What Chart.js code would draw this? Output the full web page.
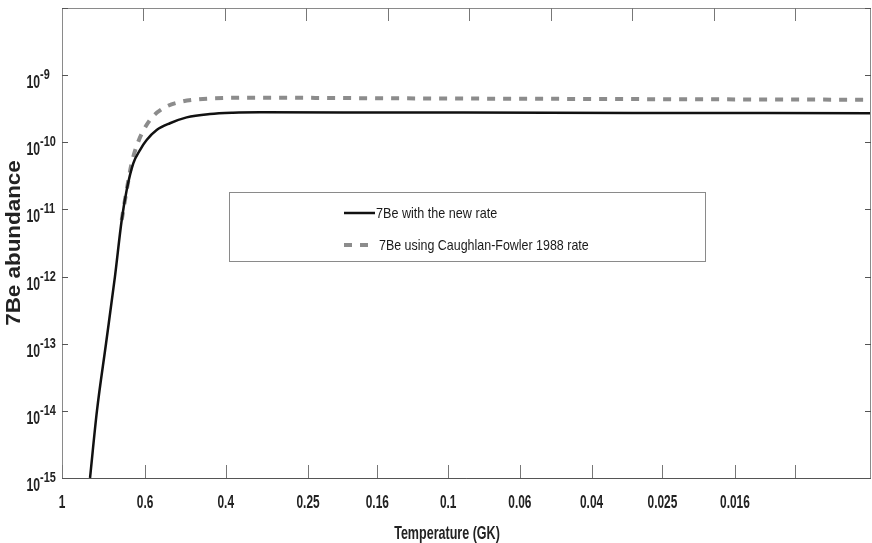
<!DOCTYPE html>
<html>
<head>
<meta charset="utf-8">
<script src="https://cdn.jsdelivr.net/npm/chart.js@4.4.1/dist/chart.umd.min.js"></script>
<style>
  html, body { margin: 0; padding: 0; background: #fff; }
  #wrap { width: 872px; height: 543px; }
</style>
</head>
<body>
<div id="wrap"><canvas id="c"></canvas></div>
<script>
// x runs in axis units (one top tick per unit), labels are temperatures in GK
const tempLabels = ['1', '0.6', '0.4', '0.25', '0.16', '0.1', '0.06', '0.04', '0.025', '0.016'];
const labelTicks = [0, 1.02, 2.01, 3.02, 3.87, 4.74, 5.62, 6.50, 7.37, 8.26];
const extraBottomTicks = [9.0];
const topTicks = [1, 2, 3, 4, 5, 6, 7, 8, 9];
const yDecades = [-15, -14, -13, -12, -11, -10, -9, -8];
const xTitle = 'Temperature (GK)';
const yTitle = '7Be abundance';

// 7Be with the new rate
const newRateX = [0.344, 0.429, 0.540, 0.650, 0.733, 0.794, 0.875, 0.957, 1.039, 1.162, 1.325, 1.530, 1.816, 2.098, 2.429, 4.0, 7.0, 9.93];
const newRateY = [1e-15, 1e-14, 1e-13, 1e-12, 6.97e-12, 1.95e-11, 4.86e-11, 7.67e-11, 1.08e-10, 1.52e-10, 1.92e-10, 2.35e-10, 2.64e-10, 2.76e-10, 2.80e-10, 2.78e-10, 2.74e-10, 2.71e-10];

// 7Be using Caughlan-Fowler 1988 rate
const cfRateX = [0.733, 0.794, 0.855, 0.936, 1.080, 1.264, 1.469, 1.672, 1.877, 2.282, 4.0, 7.0, 9.93];
const cfRateY = [6.97e-12, 1.95e-11, 4.86e-11, 1.02e-10, 2.15e-10, 3.32e-10, 4.03e-10, 4.37e-10, 4.52e-10, 4.62e-10, 4.52e-10, 4.40e-10, 4.30e-10];

const FONT = "'Liberation Sans', Arial, sans-serif";

function pts(xs, ys) { return xs.map((x, i) => ({ x: x, y: ys[i] })); }

// condensed text: squeeze horizontally to mimic a narrow face
function narrowText(ctx, text, x, y, size, sx, align, weight) {
    ctx.save();
    ctx.translate(x, y);
    ctx.scale(sx, 1);
    ctx.font = (weight || 'normal') + ' ' + size + 'px ' + FONT;
    ctx.textAlign = align;
    ctx.fillText(text, 0, 0);
    ctx.restore();
}

const framePlugin = {
    id: 'frame',
    afterDraw(chart) {
        const ctx = chart.ctx;
        const a = chart.chartArea;
        const xs = chart.scales.x, ys = chart.scales.y;
        ctx.save();
        // box
        ctx.strokeStyle = '#8a8a8a';
        ctx.lineWidth = 1;
        ctx.strokeRect(a.left + 0.5, a.top + 0.5, a.right - a.left - 1, a.bottom - a.top);
        ctx.strokeStyle = '#555';
        ctx.beginPath();
        ctx.moveTo(a.left, a.bottom + 0.5); ctx.lineTo(a.right, a.bottom + 0.5);
        ctx.stroke();
        // y ticks both sides + labels
        ctx.fillStyle = '#222';
        ctx.textBaseline = 'alphabetic';
        yDecades.forEach(d => {
            const y = Math.round(ys.getPixelForValue(Math.pow(10, d))) + 0.5;
            ctx.strokeStyle = '#555';
            ctx.beginPath();
            ctx.moveTo(a.left, y); ctx.lineTo(a.left + 6, y);
            ctx.moveTo(a.right, y); ctx.lineTo(a.right - 6, y);
            ctx.stroke();
            if (d > -9) return;
            narrowText(ctx, '10', 40, y + 12, 18, 0.68, 'right', 'bold');
            narrowText(ctx, String(d), 40, y + 3, 14, 0.78, 'left', 'bold');
        });
        // x ticks: bottom at label positions, top evenly spaced
        ctx.strokeStyle = '#777';
        labelTicks.concat(extraBottomTicks).forEach(v => {
            const x = Math.round(xs.getPixelForValue(v)) + 0.5;
            ctx.beginPath(); ctx.moveTo(x, a.bottom); ctx.lineTo(x, a.bottom - 13); ctx.stroke();
        });
        topTicks.forEach(v => {
            const x = Math.round(xs.getPixelForValue(v)) + 0.5;
            ctx.beginPath(); ctx.moveTo(x, a.top); ctx.lineTo(x, a.top + 13); ctx.stroke();
        });
        // x tick labels and title
        ctx.textBaseline = 'middle';
        labelTicks.forEach((v, i) => {
            narrowText(ctx, tempLabels[i], xs.getPixelForValue(v), 503, 18, 0.66, 'center', 'bold');
        });
        narrowText(ctx, xTitle, 447, 534, 19, 0.66, 'center', 'bold');
        // y title
        ctx.save();
        ctx.translate(14, (a.top + a.bottom) / 2);
        ctx.rotate(-Math.PI / 2);
        ctx.scale(1.12, 1);
        ctx.font = 'bold 20px ' + FONT;
        ctx.textAlign = 'center';
        ctx.fillText(yTitle, 0, 0);
        ctx.restore();
        // legend box
        ctx.strokeStyle = '#8a8a8a';
        ctx.lineWidth = 1;
        ctx.fillStyle = '#fff';
        ctx.fillRect(229, 192, 476, 69);
        ctx.strokeRect(229.5, 192.5, 476, 69);
        const rows = [{ y: 213, tx: 376, sx: 0.84 }, { y: 245, tx: 379, sx: 0.83 }];
        chart.data.datasets.forEach((ds, i) => {
            const r = rows[i];
            ctx.strokeStyle = ds.borderColor;
            ctx.lineWidth = ds.borderWidth;
            ctx.setLineDash(ds.borderDash || []);
            ctx.beginPath(); ctx.moveTo(344, r.y); ctx.lineTo(i === 0 ? 375 : 368, r.y); ctx.stroke();
            ctx.setLineDash([]);
            ctx.fillStyle = '#1a1a1a';
            narrowText(ctx, ds.label, r.tx, r.y + 1, 15, r.sx, 'left');
        });
        ctx.restore();
    }
};

new Chart(document.getElementById('c'), {
    type: 'line',
    data: {
        datasets: [
            { label: '7Be with the new rate', data: pts(newRateX, newRateY), borderColor: '#111', borderWidth: 2.5, pointRadius: 0, cubicInterpolationMode: 'monotone', order: 1 },
            { label: '7Be using Caughlan-Fowler 1988 rate', data: pts(cfRateX, cfRateY), borderColor: '#8c8c8c', borderWidth: 4, borderDash: [8, 8], pointRadius: 0, cubicInterpolationMode: 'monotone', order: 2 }
        ]
    },
    options: {
        responsive: true, maintainAspectRatio: false, animation: false,
        layout: { padding: { top: 8, right: 1, left: 0, bottom: 0 } },
        plugins: { legend: { display: false }, tooltip: { enabled: false } },
        scales: {
            x: {
                type: 'linear', min: 0, max: 9.93,
                grid: { display: false, drawTicks: false }, border: { display: false },
                ticks: { display: false },
                afterFit: (s) => { s.height = 65; }
            },
            y: {
                type: 'logarithmic', min: 1e-15, max: 1e-8,
                grid: { display: false, drawTicks: false }, border: { display: false },
                ticks: { display: false },
                afterFit: (s) => { s.width = 62; }
            }
        }
    },
    plugins: [framePlugin]
});
</script>
</body>
</html>
